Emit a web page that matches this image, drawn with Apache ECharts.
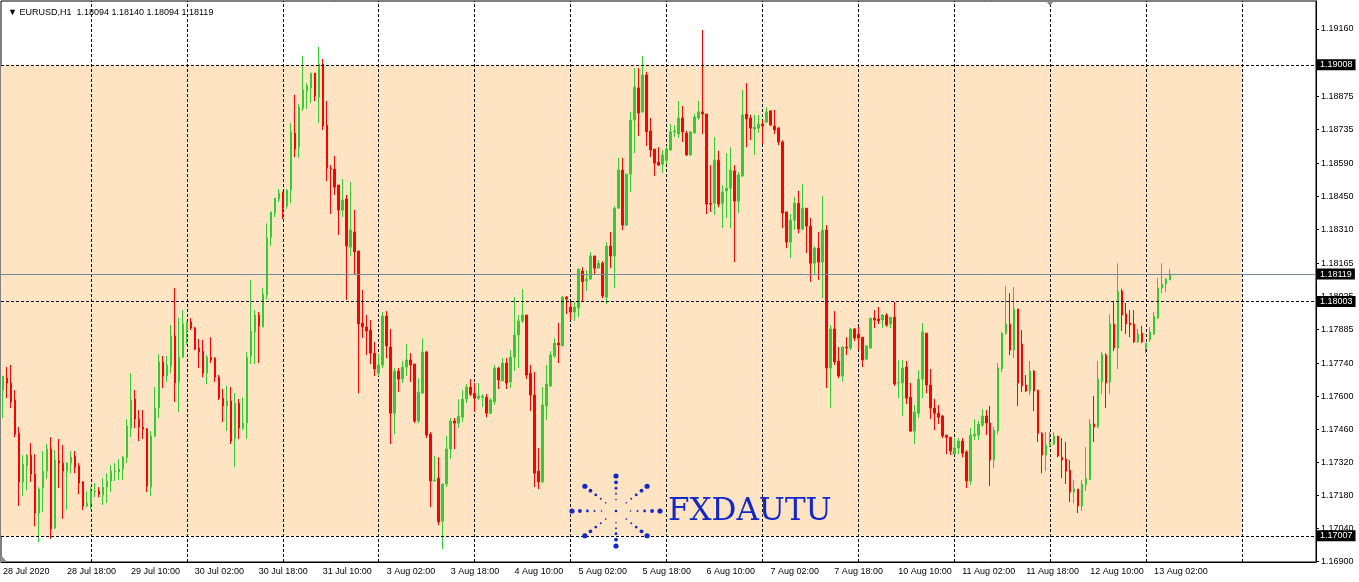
<!DOCTYPE html>
<html>
<head>
<meta charset="utf-8">
<title>EURUSD,H1</title>
<script src="https://cdn.jsdelivr.net/npm/echarts@6/dist/echarts.min.js"></script>
<style>
  html, body { margin: 0; padding: 0; background: #fff; }
  #chart { width: 1359px; height: 582px; }
</style>
</head>
<body>
<div id="chart"></div>
<script>
// EURUSD H1 bars, 28 Jul 02:00 .. 13 Aug 06:00 (broker time), [open, close, low, high]
const candles = [
  [1.17626,1.17686,1.17507,1.17686],[1.17677,1.17656,1.17592,1.17724],[1.17656,1.17576,1.17550,1.17733],[1.17584,1.17439,1.17426,1.17626],
  [1.17443,1.17236,1.17134,1.17469],[1.17236,1.17312,1.17176,1.17350],[1.17304,1.17350,1.17201,1.17354],[1.17350,1.17269,1.17236,1.17401],
  [1.17269,1.17104,1.17049,1.17354],[1.17104,1.17206,1.16981,1.17214],[1.17210,1.17282,1.17109,1.17367],[1.17282,1.17376,1.17248,1.17397],
  [1.17376,1.17036,1.16994,1.17426],[1.17040,1.17329,1.17036,1.17371],[1.17325,1.17316,1.17210,1.17418],[1.17316,1.17282,1.17079,1.17393],
  [1.17282,1.17316,1.17117,1.17321],[1.17316,1.17341,1.17273,1.17367],[1.17346,1.17299,1.17273,1.17367],[1.17304,1.17231,1.17184,1.17316],
  [1.17236,1.17134,1.17117,1.17240],[1.17134,1.17146,1.17129,1.17197],[1.17142,1.17197,1.17121,1.17214],[1.17193,1.17197,1.17171,1.17231],
  [1.17197,1.17184,1.17171,1.17214],[1.17180,1.17214,1.17138,1.17252],[1.17214,1.17240,1.17146,1.17273],[1.17240,1.17282,1.17193,1.17308],
  [1.17278,1.17282,1.17240,1.17316],[1.17278,1.17291,1.17244,1.17333],[1.17291,1.17341,1.17244,1.17346],[1.17341,1.17474,1.17316,1.17503],
  [1.17465,1.17584,1.17426,1.17698],[1.17588,1.17503,1.17465,1.17626],[1.17503,1.17469,1.17410,1.17541],[1.17469,1.17461,1.17418,1.17541],
  [1.17461,1.17219,1.17193,1.17465],[1.17214,1.17431,1.17176,1.17452],[1.17431,1.17550,1.17426,1.17639],[1.17550,1.17746,1.17507,1.17779],
  [1.17746,1.17686,1.17635,1.17771],[1.17686,1.17733,1.17661,1.17771],[1.17729,1.17856,1.17698,1.17903],[1.17856,1.17656,1.17576,1.18060],
  [1.17661,1.17766,1.17533,1.17932],[1.17766,1.17907,1.17762,1.17966],[1.17877,1.17916,1.17818,1.17916],[1.17916,1.17890,1.17881,1.17932],
  [1.17890,1.17801,1.17796,1.17894],[1.17805,1.17788,1.17720,1.17843],[1.17792,1.17698,1.17681,1.17839],[1.17698,1.17766,1.17652,1.17775],
  [1.17766,1.17754,1.17741,1.17851],[1.17762,1.17681,1.17661,1.17766],[1.17681,1.17592,1.17584,1.17690],[1.17592,1.17559,1.17491,1.17631],
  [1.17559,1.17580,1.17452,1.17644],[1.17580,1.17410,1.17397,1.17639],[1.17422,1.17571,1.17299,1.17613],[1.17571,1.17465,1.17418,1.17588],
  [1.17465,1.17486,1.17456,1.17596],[1.17486,1.17766,1.17418,1.17788],[1.17771,1.17877,1.17737,1.18094],[1.17873,1.17945,1.17737,1.17966],
  [1.17945,1.17899,1.17741,1.17958],[1.17894,1.18034,1.17894,1.18060],[1.18030,1.18272,1.18013,1.18335],[1.18276,1.18383,1.18238,1.18383],
  [1.18378,1.18442,1.18361,1.18442],[1.18438,1.18463,1.18425,1.18480],[1.18468,1.18399,1.18353,1.18468],[1.18408,1.18476,1.18395,1.18480],
  [1.18476,1.18723,1.18420,1.18760],[1.18718,1.18650,1.18616,1.18880],[1.18658,1.18828,1.18612,1.18841],[1.18824,1.18901,1.18812,1.19046],
  [1.18897,1.18918,1.18820,1.18930],[1.18909,1.18973,1.18845,1.18973],[1.18973,1.18876,1.18854,1.18973],[1.18871,1.19011,1.18760,1.19084],
  [1.19011,1.18748,1.18731,1.19033],[1.18752,1.18569,1.18514,1.18854],[1.18569,1.18565,1.18374,1.18582],[1.18565,1.18488,1.18455,1.18621],
  [1.18497,1.18391,1.18285,1.18497],[1.18391,1.18433,1.18361,1.18523],[1.18438,1.18238,1.18009,1.18455],[1.18233,1.18306,1.18196,1.18510],
  [1.18298,1.18213,1.18115,1.18391],[1.18217,1.17907,1.17613,1.18217],[1.17911,1.17894,1.17847,1.18051],[1.17894,1.17877,1.17775,1.17945],
  [1.17881,1.17783,1.17737,1.17924],[1.17783,1.17716,1.17686,1.17831],[1.17698,1.17733,1.17686,1.17779],[1.17733,1.17941,1.17720,1.17958],
  [1.17941,1.17814,1.17762,1.17962],[1.17809,1.17528,1.17397,1.17886],[1.17528,1.17707,1.17439,1.17720],[1.17707,1.17673,1.17618,1.17720],
  [1.17673,1.17724,1.17656,1.17750],[1.17724,1.17754,1.17686,1.17822],[1.17754,1.17733,1.17661,1.17783],[1.17737,1.17495,1.17486,1.17737],
  [1.17495,1.17618,1.17486,1.17677],[1.17613,1.17788,1.17613,1.17847],[1.17788,1.17435,1.17422,1.17792],[1.17439,1.17240,1.17129,1.17448],
  [1.17240,1.17244,1.17240,1.17346],[1.17252,1.17066,1.17053,1.17341],[1.17070,1.17227,1.16951,1.17227],[1.17227,1.17376,1.17214,1.17431],
  [1.17376,1.17495,1.17333,1.17507],[1.17495,1.17486,1.17376,1.17507],[1.17486,1.17516,1.17465,1.17588],[1.17511,1.17588,1.17491,1.17626],
  [1.17588,1.17639,1.17571,1.17652],[1.17639,1.17609,1.17601,1.17673],[1.17613,1.17592,1.17533,1.17656],[1.17592,1.17601,1.17584,1.17656],
  [1.17596,1.17601,1.17554,1.17609],[1.17596,1.17528,1.17511,1.17609],[1.17528,1.17584,1.17524,1.17592],[1.17576,1.17720,1.17563,1.17733],
  [1.17720,1.17669,1.17631,1.17724],[1.17665,1.17741,1.17665,1.17762],[1.17741,1.17656,1.17631,1.17762],[1.17661,1.17766,1.17635,1.17796],
  [1.17766,1.17860,1.17707,1.18021],[1.17860,1.17920,1.17720,1.17945],[1.17920,1.17945,1.17911,1.18056],[1.17945,1.17690,1.17673,1.17945],
  [1.17698,1.17605,1.17537,1.17733],[1.17605,1.17273,1.17214,1.17703],[1.17282,1.17236,1.17206,1.17380],[1.17236,1.17563,1.17231,1.17639],
  [1.17559,1.17652,1.17499,1.17733],[1.17644,1.17775,1.17639,1.17792],[1.17771,1.17826,1.17762,1.17847],[1.17826,1.17818,1.17741,1.17911],
  [1.17814,1.18021,1.17814,1.18026],[1.18021,1.18013,1.17949,1.18026],[1.17979,1.17958,1.17924,1.18001],[1.17958,1.17979,1.17920,1.18001],
  [1.17975,1.18140,1.17936,1.18144],[1.18132,1.18086,1.18001,1.18148],[1.18090,1.18098,1.18047,1.18136],[1.18098,1.18196,1.18094,1.18213],
  [1.18196,1.18144,1.18119,1.18196],[1.18144,1.18165,1.18144,1.18178],[1.18165,1.18026,1.18017,1.18174],[1.18021,1.18238,1.17992,1.18255],
  [1.18238,1.18196,1.18144,1.18298],[1.18196,1.18399,1.18060,1.18408],[1.18399,1.18561,1.18395,1.18612],[1.18561,1.18327,1.18306,1.18612],
  [1.18327,1.18544,1.18323,1.18544],[1.18544,1.18773,1.18468,1.18808],[1.18773,1.18913,1.18633,1.18994],[1.18909,1.18803,1.18706,1.18994],
  [1.18808,1.18965,1.18803,1.19046],[1.18965,1.18723,1.18663,1.18978],[1.18727,1.18646,1.18616,1.18782],[1.18650,1.18590,1.18536,1.18650],
  [1.18595,1.18582,1.18578,1.18658],[1.18586,1.18625,1.18548,1.18646],[1.18603,1.18650,1.18586,1.18663],[1.18646,1.18723,1.18642,1.18756],
  [1.18723,1.18727,1.18701,1.18752],[1.18714,1.18782,1.18697,1.18854],[1.18782,1.18723,1.18680,1.18833],[1.18718,1.18625,1.18621,1.18727],
  [1.18625,1.18723,1.18621,1.18727],[1.18718,1.18786,1.18718,1.18799],[1.18782,1.18808,1.18773,1.18854],[1.18808,1.18799,1.18714,1.19156],
  [1.18799,1.18416,1.18374,1.18799],[1.18420,1.18416,1.18383,1.18582],[1.18420,1.18603,1.18370,1.18701],[1.18603,1.18416,1.18403,1.18642],
  [1.18420,1.18468,1.18314,1.18497],[1.18472,1.18484,1.18357,1.18633],[1.18484,1.18561,1.18314,1.18658],[1.18557,1.18429,1.18170,1.18582],
  [1.18429,1.18540,1.18378,1.18553],[1.18536,1.18795,1.18531,1.18901],[1.18799,1.18778,1.18658,1.18930],[1.18782,1.18739,1.18688,1.18795],
  [1.18735,1.18743,1.18625,1.18795],[1.18739,1.18756,1.18718,1.18795],[1.18756,1.18748,1.18671,1.18773],[1.18765,1.18808,1.18760,1.18828],
  [1.18812,1.18752,1.18748,1.18816],[1.18748,1.18731,1.18714,1.18816],[1.18739,1.18680,1.18667,1.18743],[1.18680,1.18378,1.18314,1.18688],
  [1.18383,1.18255,1.18229,1.18383],[1.18255,1.18348,1.18187,1.18374],[1.18348,1.18420,1.18306,1.18446],[1.18420,1.18310,1.18293,1.18472],
  [1.18310,1.18399,1.18306,1.18501],[1.18399,1.18323,1.18208,1.18399],[1.18323,1.18165,1.18086,1.18357],[1.18165,1.18229,1.18119,1.18238],
  [1.18229,1.18170,1.18094,1.18298],[1.18170,1.18306,1.18017,1.18451],[1.18306,1.17720,1.17635,1.18327],[1.17720,1.17886,1.17550,1.17903],
  [1.17886,1.17746,1.17733,1.17962],[1.17750,1.17686,1.17677,1.17809],[1.17686,1.17809,1.17661,1.17814],[1.17809,1.17805,1.17775,1.17851],
  [1.17805,1.17886,1.17796,1.17890],[1.17886,1.17847,1.17835,1.17890],[1.17864,1.17847,1.17796,1.17894],[1.17851,1.17754,1.17724,1.17851],
  [1.17758,1.17814,1.17754,1.17818],[1.17805,1.17932,1.17801,1.17932],[1.17932,1.17924,1.17890,1.17966],[1.17928,1.17920,1.17907,1.17979],
  [1.17924,1.17945,1.17890,1.17949],[1.17945,1.17903,1.17894,1.17953],[1.17907,1.17936,1.17890,1.17936],[1.17936,1.17652,1.17644,1.18001],
  [1.17656,1.17658,1.17592,1.17754],[1.17656,1.17720,1.17516,1.17754],[1.17724,1.17592,1.17567,1.17750],[1.17596,1.17452,1.17448,1.17656],
  [1.17452,1.17533,1.17397,1.17563],[1.17528,1.17673,1.17507,1.17711],[1.17673,1.17873,1.17592,1.17911],[1.17868,1.17648,1.17613,1.17868],
  [1.17648,1.17550,1.17503,1.17716],[1.17550,1.17528,1.17456,1.17588],[1.17528,1.17511,1.17482,1.17563],[1.17516,1.17431,1.17422,1.17520],
  [1.17435,1.17426,1.17354,1.17435],[1.17426,1.17367,1.17350,1.17426],[1.17354,1.17380,1.17350,1.17422],[1.17380,1.17410,1.17354,1.17422],
  [1.17410,1.17358,1.17341,1.17422],[1.17363,1.17240,1.17210,1.17371],[1.17240,1.17435,1.17223,1.17465],[1.17431,1.17439,1.17414,1.17503],
  [1.17435,1.17482,1.17414,1.17495],[1.17478,1.17516,1.17469,1.17546],[1.17516,1.17486,1.17435,1.17541],[1.17486,1.17329,1.17219,1.17559],
  [1.17329,1.17456,1.17295,1.17469],[1.17452,1.17720,1.17439,1.17741],[1.17716,1.17868,1.17703,1.17873],[1.17868,1.17907,1.17860,1.18069],
  [1.17907,1.17796,1.17775,1.18038],[1.17796,1.17971,1.17762,1.18064],[1.17971,1.17656,1.17559,1.17971],[1.17822,1.17644,1.17618,1.17881],
  [1.17648,1.17622,1.17618,1.17690],[1.17622,1.17707,1.17605,1.17750],[1.17707,1.17622,1.17537,1.17711],[1.17626,1.17443,1.17406,1.17626],
  [1.17443,1.17350,1.17273,1.17448],[1.17350,1.17393,1.17282,1.17448],[1.17389,1.17401,1.17384,1.17448],[1.17397,1.17431,1.17393,1.17448],
  [1.17431,1.17346,1.17341,1.17431],[1.17341,1.17329,1.17252,1.17422],[1.17333,1.17282,1.17227,1.17406],[1.17286,1.17193,1.17151,1.17329],
  [1.17193,1.17206,1.17146,1.17244],[1.17206,1.17134,1.17104,1.17206],[1.17134,1.17227,1.17113,1.17244],[1.17223,1.17252,1.17197,1.17384],
  [1.17248,1.17482,1.17244,1.17503],[1.17482,1.17469,1.17406,1.17601],[1.17469,1.17673,1.17465,1.17750],[1.17661,1.17779,1.17609,1.17788],
  [1.17775,1.17656,1.17550,1.17783],[1.17661,1.17907,1.17609,1.17949],[1.17907,1.17805,1.17792,1.18005],[1.17805,1.18047,1.17716,1.18165],
  [1.18047,1.17945,1.17877,1.18056],[1.17949,1.17907,1.17864,1.17996],[1.17911,1.17903,1.17851,1.17966],[1.17907,1.17831,1.17826,1.17966],
  [1.17831,1.17864,1.17826,1.17886],[1.17868,1.17831,1.17826,1.17899],[1.17805,1.17826,1.17783,1.17826],[1.17839,1.17873,1.17831,1.17894],
  [1.17864,1.17941,1.17860,1.17958],[1.17932,1.18060,1.17928,1.18102],[1.18060,1.18077,1.18038,1.18165],[1.18077,1.18098,1.18043,1.18102],
  [1.18094,1.18119,1.18094,1.18140]
];

const symbolName = 'EURUSD,H1';
const firstBarUtc = Date.UTC(2020, 6, 28, 2);
const futureBars = 36;

const priceTicks = [1.16900, 1.17040, 1.17180, 1.17320, 1.17460, 1.17600, 1.17740, 1.17885, 1.18025,
  1.18165, 1.18310, 1.18450, 1.18590, 1.18735, 1.18875, 1.19015, 1.19160];

const zoneTop = 1.19008;
const zoneBottom = 1.17007;
const zoneEnd = '14 Aug 00:00';
const levelLines = [1.19008, 1.18003, 1.17007];
const bidPrice = 1.18119;

const bullColor = '#32CD32';
const bearColor = '#FF0000';
const logoColor = '#1428c8';
const FONT = "'Liberation Sans', Arial, sans-serif";
const MONTHS = ['Jan', 'Feb', 'Mar', 'Apr', 'May', 'Jun', 'Jul', 'Aug', 'Sep', 'Oct', 'Nov', 'Dec'];

// hourly bars, no weekend bars
const barTimes = [];
for (let t = firstBarUtc; barTimes.length < candles.length + futureBars; t += 3600000) {
  const d = new Date(t);
  const wd = d.getUTCDay();
  if (wd !== 0 && wd !== 6) barTimes.push(d);
}
const pad = n => (n < 10 ? '0' : '') + n;
const categories = barTimes.map((d, i) => {
  const day = d.getUTCDate() + ' ' + MONTHS[d.getUTCMonth()];
  return i === 0 ? day + ' ' + d.getUTCFullYear() : day + ' ' + pad(d.getUTCHours()) + ':00';
});
const dayStarts = categories.filter((c, i) => i > 0 && barTimes[i].getUTCHours() === 0);

const last = candles[candles.length - 1];
const header = '\u25BC ' + symbolName + '  ' + [last[0], last[3], last[2], last[1]].map(v => v.toFixed(5)).join(' ');

// watermark logo: dotted star + name
const logo = [];
const cx = 616, cy = 511;
for (let k = 0; k < 8; k++) {
  const a = k * Math.PI / 4;
  [[1, 2.6], [0.82, 1.9], [0.65, 1.4], [0.49, 1.0], [0.33, 0.8]].forEach(([f, r]) => {
    logo.push({
      type: 'circle', silent: true, z: 100,
      shape: { cx: cx + 44 * f * Math.cos(a), cy: cy + 35 * f * Math.sin(a), r: r },
      style: { fill: logoColor }
    });
  });
}
logo.push({ type: 'circle', silent: true, z: 100, shape: { cx: cx, cy: cy, r: 1.3 }, style: { fill: logoColor } });
logo.push({
  type: 'text', silent: true, z: 100, x: 668, y: 512,
  style: { text: 'FXDAUTU', font: "31px 'DejaVu Serif', serif", fill: logoColor, verticalAlign: 'middle' }
});

const boxLabel = {
  show: true, position: 'end', formatter: '{b}', distance: 1,
  color: '#fff', backgroundColor: '#000', padding: [1, 3, 1, 3],
  fontSize: 9, fontFamily: FONT
};

const chart = echarts.init(document.getElementById('chart'));

chart.setOption({
  animation: false,
  backgroundColor: '#fff',
  title: {
    text: header, left: 3, top: 3,
    textStyle: { fontSize: 9, fontWeight: 'normal', color: '#000', fontFamily: FONT }
  },
  graphic: logo.concat([
    { type: 'polygon', silent: true, z: 100, shape: { points: [[1046, 1], [1054, 1], [1050, 6]] }, style: { fill: '#8c8c8c' } },
    { type: 'polygon', silent: true, z: 100, shape: { points: [[1, 555], [1, 562], [7, 562]] }, style: { fill: '#8c8c8c' } }
  ]),
  grid: {
    left: 1, right: 43, top: 1, bottom: 20,
    show: true, backgroundColor: '#fff', borderColor: '#000', borderWidth: 1
  },
  xAxis: {
    type: 'category',
    data: categories,
    boundaryGap: true,
    axisLine: { lineStyle: { color: '#000' } },
    axisTick: { show: false },
    splitLine: { show: false },
    axisLabel: {
      interval: (i) => i % 16 === 0 && i < candles.length,
      align: 'left', margin: 5,
      fontSize: 9, color: '#000', fontFamily: FONT
    }
  },
  yAxis: {
    type: 'value',
    position: 'right',
    min: 1.16896, max: 1.19279,
    axisLine: { show: true, lineStyle: { color: '#000' } },
    axisTick: { show: true, length: 3, customValues: priceTicks, lineStyle: { color: '#000' } },
    axisLabel: {
      customValues: priceTicks, margin: 5,
      formatter: (v) => v.toFixed(5),
      fontSize: 9, color: '#000', fontFamily: FONT
    },
    splitLine: { show: false }
  },
  series: [
    {
      name: 'dayGrid',
      type: 'line',
      data: [],
      silent: true,
      markLine: {
        z: 1.5, silent: true, symbol: ['none', 'none'], label: { show: false },
        lineStyle: { color: '#000', type: [3, 2], width: 1 },
        data: dayStarts.map(c => ({ xAxis: c }))
      }
    },
    {
      name: symbolName,
      type: 'candlestick',
      data: candles,
      barWidth: 2,
      itemStyle: {
        color: bullColor, color0: bearColor,
        borderColor: bullColor, borderColor0: bearColor, borderWidth: 1
      },
      markArea: {
        z: 1, silent: true,
        itemStyle: { color: '#FFE4C4' },
        data: [[{ yAxis: zoneTop }, { xAxis: zoneEnd, yAxis: zoneBottom }]]
      },
      markLine: {
        silent: true, symbol: ['none', 'none'], precision: 5,
        label: boxLabel,
        data: levelLines.map(v => ({
          yAxis: v, name: v.toFixed(5),
          lineStyle: { color: '#000', type: [3, 2], width: 1 }
        })).concat([{
          yAxis: bidPrice, name: bidPrice.toFixed(5),
          lineStyle: { color: '#7a8a9a', type: 'solid', width: 1 }
        }])
      }
    }
  ]
});
</script>
</body>
</html>
